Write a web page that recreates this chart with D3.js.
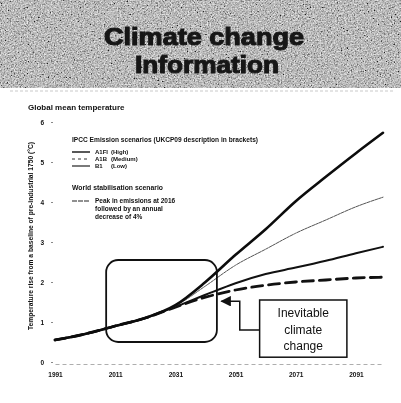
<!DOCTYPE html>
<html>
<head>
<meta charset="utf-8">
<script src="https://cdn.jsdelivr.net/npm/d3@7"></script>
<style>
  html, body { margin: 0; padding: 0; background: #fff; }
  svg { display: block; }
  text { opacity: 0.995; }
</style>
</head>
<body>
<svg id="chart" width="401" height="403"></svg>
<script>
// Global mean temperature projections (°C above pre-industrial 1750)
const years = [1991, 2001, 2011, 2021, 2031, 2041, 2051, 2061, 2071, 2081, 2091, 2100];
const a1fiHigh   = [0.55, 0.70, 0.90, 1.10, 1.42, 2.00, 2.68, 3.32, 4.02, 4.63, 5.22, 5.73];
const a1bMedium  = [0.55, 0.70, 0.90, 1.10, 1.40, 1.90, 2.42, 2.82, 3.22, 3.55, 3.88, 4.12];
const b1Low      = [0.55, 0.70, 0.90, 1.10, 1.38, 1.68, 1.97, 2.20, 2.36, 2.53, 2.72, 2.88];
const stabilised = [0.55, 0.70, 0.90, 1.10, 1.37, 1.62, 1.80, 1.92, 2.00, 2.05, 2.10, 2.12];

const xTickYears = [1991, 2011, 2031, 2051, 2071, 2091];
const yTickValues = [0, 1, 2, 3, 4, 5, 6];

// Highlighted period and annotation (in data units)
const highlightYears = [2008, 2044.8];
const highlightTemps = [0.5, 2.55];
const noteYears = [2059, 2088];
const noteTemps = [0.12, 1.55];
const noteLines = ["Inevitable", "climate", "change"];
const arrowPath = [[2059, 0.8], [2052.4, 0.8], [2052.4, 1.52], [2046.3, 1.52]];

const svg = d3.select("#chart");
const font = "'Liberation Sans', Arial, sans-serif";

// ----- grainy grey title band -----
const defs = svg.append("defs");
const grain = defs.append("filter").attr("id", "grain")
  .attr("x", 0).attr("y", 0).attr("width", "100%").attr("height", "100%");
grain.append("feTurbulence").attr("type", "fractalNoise")
  .attr("baseFrequency", 0.7).attr("numOctaves", 2).attr("seed", 7).attr("result", "n");
grain.append("feColorMatrix").attr("in", "n").attr("type", "matrix")
  .attr("values", "0.33 0.33 0.33 0 0  0.33 0.33 0.33 0 0  0.33 0.33 0.33 0 0  0 0 0 0 1")
  .attr("result", "g");
grain.append("feComponentTransfer").attr("in", "g")
  .call(ct => {
    ["feFuncR", "feFuncG", "feFuncB"].forEach(f =>
      ct.append(f).attr("type", "linear").attr("slope", 2.8).attr("intercept", -0.85));
  });

const soften = defs.append("filter").attr("id", "soften");
soften.append("feGaussianBlur").attr("stdDeviation", 0.7);

const band = svg.append("g");
band.append("rect").attr("x", 0).attr("y", 0).attr("width", 401).attr("height", 88)
  .attr("fill", "#9a9a9a");
band.append("rect").attr("x", 0).attr("y", 0).attr("width", 401).attr("height", 88)
  .attr("filter", "url(#grain)").attr("opacity", 0.8);

const titleLines = [
  { text: "Climate change", cx: 204, base: 45, len: 200 },
  { text: "Information", cx: 207, base: 73, len: 144 }
];
band.append("g")
  .attr("font-family", font).attr("font-weight", "bold").attr("font-size", 24)
  .attr("fill", "#161616").attr("stroke", "#161616").attr("stroke-width", 1.1)
  .attr("filter", "url(#soften)")
  .selectAll("text").data(titleLines).join("text")
  .attr("text-anchor", "middle")
  .attr("x", d => d.cx).attr("y", d => d.base)
  .attr("textLength", d => d.len).attr("lengthAdjust", "spacingAndGlyphs")
  .text(d => d.text);

// faint rule under the band
svg.append("line").attr("x1", 10).attr("x2", 395).attr("y1", 91).attr("y2", 91)
  .attr("stroke", "#bbb").attr("stroke-width", 0.8).attr("stroke-dasharray", "3,2");

// ----- chart -----
const x = d3.scaleLinear().domain([1991, 2100]).range([55, 383]);
const y = d3.scaleLinear().domain([0, 6]).range([362, 122]);

svg.append("text").attr("x", 28).attr("y", 110)
  .attr("font-family", font).attr("font-weight", "bold").attr("font-size", 8)
  .attr("fill", "#111").text("Global mean temperature");

// y axis: labels and tiny ticks, no domain line
const yAxis = svg.append("g").attr("transform", "translate(53,0)")
  .call(d3.axisLeft(y).tickValues(yTickValues).tickSize(2).tickPadding(7).tickFormat(d3.format("d")));
yAxis.select(".domain").remove();
yAxis.selectAll("text").attr("font-family", font).attr("font-weight", "bold")
  .attr("font-size", 6.5).attr("fill", "#111");
yAxis.selectAll("line").attr("stroke", "#888");

// x axis: dotted baseline with year labels
const xAxis = svg.append("g").attr("transform", "translate(0,364)")
  .call(d3.axisBottom(x).tickValues(xTickYears).tickSize(0).tickPadding(8).tickFormat(d3.format("d")));
xAxis.select(".domain").attr("stroke", "#999").attr("stroke-width", 0.8).attr("stroke-dasharray", "4,3");
xAxis.selectAll("text").attr("font-family", font).attr("font-weight", "bold")
  .attr("font-size", 6.5).attr("fill", "#111");

// y axis title
svg.append("text")
  .attr("transform", "translate(33,236) rotate(-90)")
  .attr("text-anchor", "middle")
  .attr("font-family", font).attr("font-weight", "bold").attr("font-size", 6.3)
  .attr("textLength", 188).attr("lengthAdjust", "spacingAndGlyphs")
  .attr("fill", "#111")
  .text("Temperature rise from a baseline of pre-industrial 1750 (°C)");

// series
const line = d3.line().x((d, i) => x(years[i])).y(d => y(d)).curve(d3.curveMonotoneX);
const series = [
  { values: stabilised, width: 2.8, color: "#111", dash: "11,6" },
  { values: b1Low, width: 2.0, color: "#111", dash: null },
  { values: a1bMedium, width: 1.0, color: "#555", dash: "3,1" },
  { values: a1fiHigh, width: 2.6, color: "#0c0c0c", dash: null }
];
svg.append("g").selectAll("path").data(series).join("path")
  .attr("d", d => line(d.values))
  .attr("fill", "none")
  .attr("stroke", d => d.color)
  .attr("stroke-width", d => d.width)
  .attr("stroke-dasharray", d => d.dash)
  .attr("stroke-linecap", "round");

// legend
const legend = svg.append("g").attr("font-family", font).attr("font-weight", "bold").attr("fill", "#111");
legend.append("text").attr("x", 72).attr("y", 142).attr("font-size", 6.5)
  .attr("textLength", 186).attr("lengthAdjust", "spacingAndGlyphs")
  .text("IPCC Emission scenarios (UKCP09 description in brackets)");
const legendItems = [
  { code: "A1FI", name: "(High)", dash: null, width: 1.4, color: "#111", ly: 154 },
  { code: "A1B", name: "(Medium)", dash: "3,3", width: 1.0, color: "#333", ly: 161 },
  { code: "B1", name: "(Low)", dash: null, width: 1.2, color: "#222", ly: 168 }
];
legendItems.forEach(it => {
  legend.append("line").attr("x1", 72).attr("x2", 90).attr("y1", it.ly - 2).attr("y2", it.ly - 2)
    .attr("stroke", it.color).attr("stroke-width", it.width).attr("stroke-dasharray", it.dash);
  legend.append("text").attr("x", 95).attr("y", it.ly).attr("font-size", 6).text(it.code);
  legend.append("text").attr("x", 111).attr("y", it.ly).attr("font-size", 6).text(it.name);
});
legend.append("text").attr("x", 72).attr("y", 190).attr("font-size", 6.5)
  .attr("textLength", 91).attr("lengthAdjust", "spacingAndGlyphs")
  .text("World stabilisation scenario");
legend.append("line").attr("x1", 72).attr("x2", 90).attr("y1", 201).attr("y2", 201)
  .attr("stroke", "#222").attr("stroke-width", 1.2).attr("stroke-dasharray", "5,1");
["Peak in emissions at 2016", "followed by an annual", "decrease of 4%"].forEach((t, i) => {
  legend.append("text").attr("x", 95).attr("y", 203 + i * 8).attr("font-size", 6.5).text(t);
});

// highlighted period
svg.append("rect")
  .attr("x", x(highlightYears[0])).attr("y", y(highlightTemps[1]))
  .attr("width", x(highlightYears[1]) - x(highlightYears[0]))
  .attr("height", y(highlightTemps[0]) - y(highlightTemps[1]))
  .attr("rx", 12).attr("ry", 12)
  .attr("fill", "none").attr("stroke", "#111").attr("stroke-width", 1.8);

// annotation box
svg.append("rect")
  .attr("x", x(noteYears[0])).attr("y", y(noteTemps[1]))
  .attr("width", x(noteYears[1]) - x(noteYears[0]))
  .attr("height", y(noteTemps[0]) - y(noteTemps[1]))
  .attr("fill", "#fff").attr("stroke", "#111").attr("stroke-width", 1.5);
const noteCx = (x(noteYears[0]) + x(noteYears[1])) / 2;
svg.append("text").attr("text-anchor", "middle")
  .attr("font-family", font).attr("font-size", 12).attr("fill", "#111")
  .selectAll("tspan").data(noteLines).join("tspan")
  .attr("x", noteCx).attr("y", (d, i) => y(noteTemps[1]) + 17 + i * 16.5).text(d => d);

// arrow from annotation to highlighted period
defs.append("marker").attr("id", "head").attr("viewBox", "0 0 10 10")
  .attr("refX", 9).attr("refY", 5).attr("markerWidth", 7).attr("markerHeight", 7)
  .attr("orient", "auto")
  .append("path").attr("d", "M0,0 L10,5 L0,10 z").attr("fill", "#111");
svg.append("path")
  .attr("d", d3.line().x(d => x(d[0])).y(d => y(d[1]))(arrowPath))
  .attr("fill", "none").attr("stroke", "#111").attr("stroke-width", 1.5)
  .attr("marker-end", "url(#head)");
</script>
</body>
</html>
